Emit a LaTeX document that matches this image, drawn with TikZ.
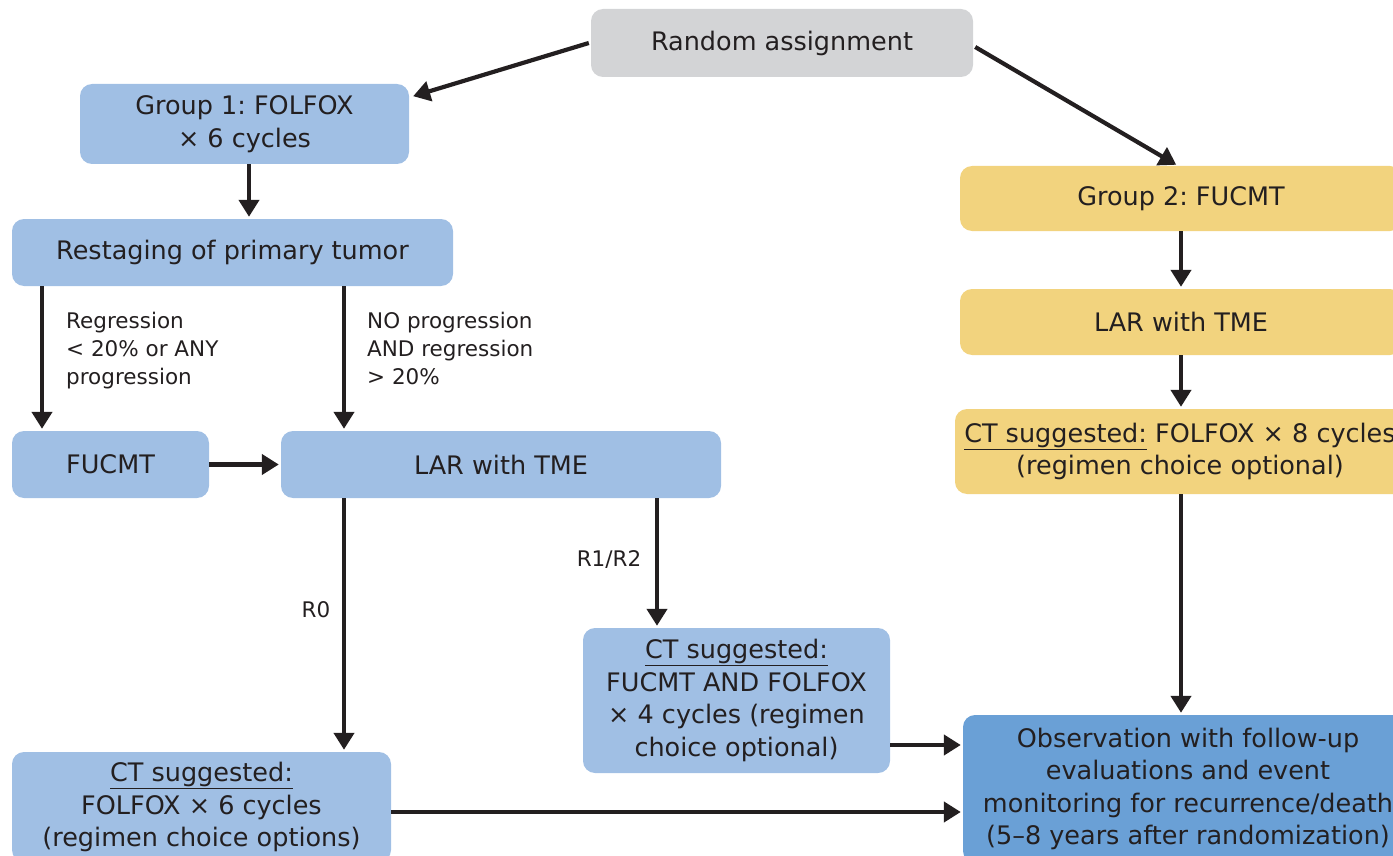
\documentclass[tikz,border=0pt]{standalone}
\usepackage{fontspec}
\setmainfont{DejaVu Sans}
\usetikzlibrary{arrows.meta,calc}
\definecolor{bl}{RGB}{160,191,228}
\definecolor{gr}{RGB}{211,212,214}
\definecolor{ye}{RGB}{242,211,126}
\definecolor{db}{RGB}{106,160,214}
\definecolor{tx}{RGB}{35,31,32}
\frenchspacing
\tikzset{
 box/.style={rounded corners=12pt, inner sep=0pt, align=center, text=tx, font=\fontsize{25.5}{32.5}\selectfont},
 arr/.style={line width=4.2pt, draw=tx, -{Triangle[length=17pt,width=20pt]}, shorten >=2pt},
 lab/.style={inner sep=0pt, align=left, text=tx, font=\fontsize{21.5}{28}\selectfont},
}
\begin{document}
\begin{tikzpicture}[x=1pt,y=-1pt]
\useasboundingbox (0,0) rectangle (1393,856);
\clip (0,0) rectangle (1393,856);
% nodes
\node[box, fill=gr, minimum width=382pt, minimum height=68pt] (ra) at (782,43) {Random assignment};
\node[box, fill=bl, minimum width=329pt, minimum height=80pt] (g1) at (244.5,124) {Group 1: FOLFOX\\× 6 cycles};
\node[box, fill=bl, minimum width=441pt, minimum height=67pt] (rs) at (232.5,252.5) {Restaging of primary tumor};
\node[box, fill=bl, minimum width=197pt, minimum height=67pt] (fu) at (110.5,464.5) {FUCMT};
\node[box, fill=bl, minimum width=440pt, minimum height=67pt] (lar) at (501,464.5) {LAR with TME};
\node[box, fill=bl, minimum width=307pt, minimum height=145pt] (ctm) at (736.5,700.5) {\underline{CT suggested:}\\FUCMT AND FOLFOX\\× 4 cycles (regimen\\choice optional)};
\node[box, fill=bl, minimum width=379pt, minimum height=110pt] (ctb) at (201.5,807) {\underline{CT suggested:}\\FOLFOX × 6 cycles\\(regimen choice options)};
\node[box, fill=ye, minimum width=442pt, minimum height=65pt] (g2) at (1181,198.5) {Group 2: FUCMT};
\node[box, fill=ye, minimum width=442pt, minimum height=66pt] (lar2) at (1181,322) {LAR with TME};
\node[box, fill=ye, minimum width=450pt, minimum height=85pt] (ctr) at (1180,451.5) {\underline{CT suggested:} FOLFOX × 8 cycles\\(regimen choice optional)};
\node[box, fill=db, minimum width=450pt, minimum height=148pt] (obs) at (1188,789) {Observation with follow-up\\evaluations and event\\monitoring for recurrence/death\\(5–8 years after randomization)};
% labels
\node[lab, anchor=north west] (l1) at (66,312) {Regression\\< 20\% or ANY\\progression};
\node[lab, anchor=north west] (l2) at (367,312) {NO progression\\AND regression\\> 20\%};
\node[lab] (l3) at (609,560) {R1/R2};
\node[lab] (l4) at (316,610) {R0};
% helper coordinates
\coordinate (xa) at (42,0);
\coordinate (xb) at (344,0);
\coordinate (xc) at (657,0);
\coordinate (xd) at (249,0);
\coordinate (xr) at (1181,0);
\coordinate (ya) at (0,745);
\coordinate (yb) at (0,812);
% connectors
\draw[arr] ($(ra.west)+(-2,0)$) -- ($(g1.north east)+(2,13)$);
\draw[arr] ($(ra.east)+(2,4)$) -- ($(g2.north)+(-3,0)$);
\draw[arr] (g1.south -| xd) -- (rs.north -| xd);
\draw[arr] (rs.south -| xa) -- (fu.north -| xa);
\draw[arr] (rs.south -| xb) -- (lar.north -| xb);
\draw[arr] (fu.east) -- (lar.west);
\draw[arr] (lar.south -| xb) -- (ctb.north -| xb);
\draw[arr] (lar.south -| xc) -- (ctm.north -| xc);
\draw[arr] (ctm.east |- ya) -- (obs.west |- ya);
\draw[arr] (ctb.east |- yb) -- (obs.west |- yb);
\draw[arr] (g2.south -| xr) -- (lar2.north -| xr);
\draw[arr] (lar2.south -| xr) -- (ctr.north -| xr);
\draw[arr] (ctr.south -| xr) -- (obs.north -| xr);
\end{tikzpicture}
\end{document}
